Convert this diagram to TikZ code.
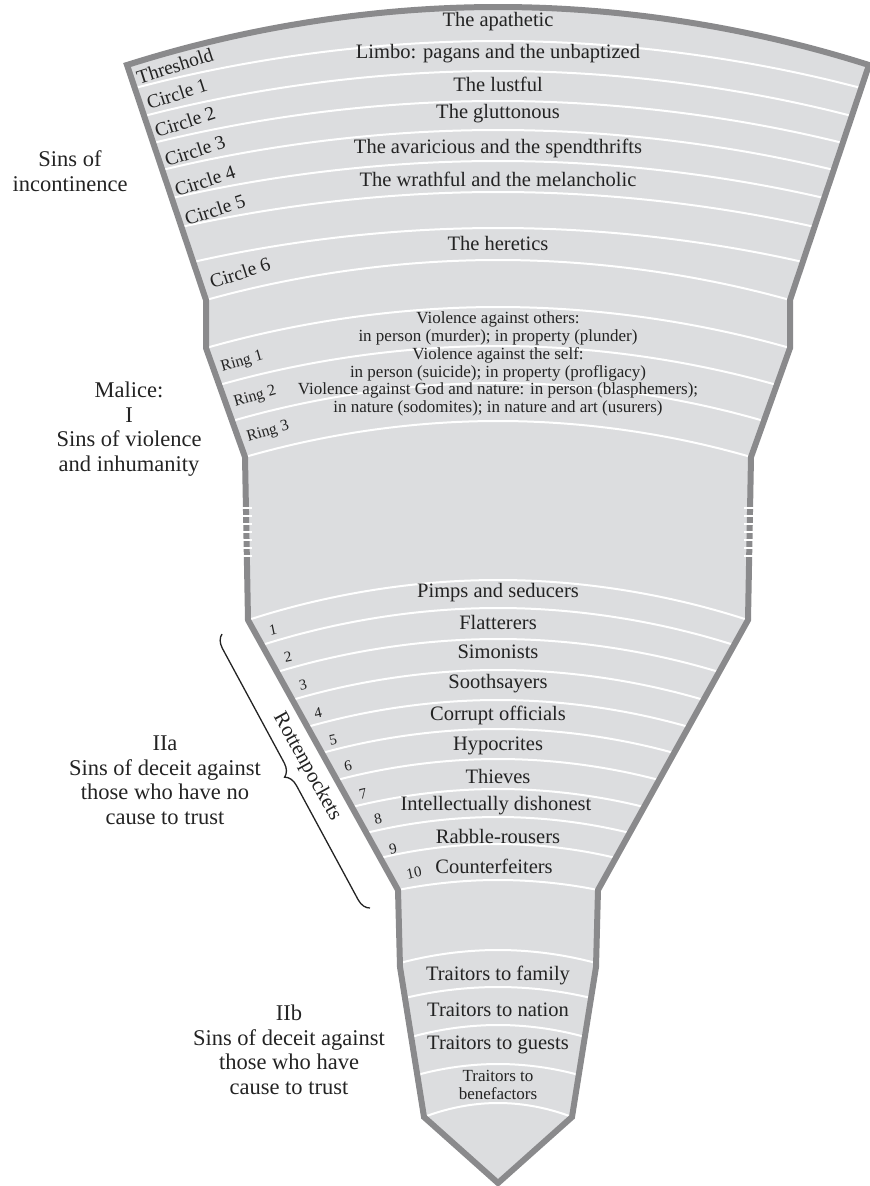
\documentclass[tikz,border=0pt]{standalone}
\usepackage{fontspec}
\setmainfont{Liberation Serif}
\usetikzlibrary{decorations.pathreplacing}
\definecolor{fillc}{RGB}{220,221,223}
\definecolor{edgec}{RGB}{138,138,140}
\definecolor{txtc}{RGB}{35,35,35}
\begin{document}
\begin{tikzpicture}[x=1pt,y=1pt,
  band/.style={font=\fontsize{20.5}{22}\selectfont, text=txtc, inner sep=0pt},
  ringtxt/.style={font=\fontsize{17}{18}\selectfont, text=txtc, align=center, inner sep=0pt},
  circlab/.style={font=\fontsize{19.5}{21}\selectfont, text=txtc, rotate=18, inner sep=0pt},
  ringlab/.style={font=\fontsize{16}{18}\selectfont, text=txtc, rotate=16, inner sep=0pt},
  numlab/.style={font=\fontsize{15}{17}\selectfont, text=txtc, rotate=12, inner sep=0pt},
  sidelab/.style={font=\fontsize{22.5}{24.5}\selectfont, text=txtc, align=center, inner sep=0pt},
  sepline/.style={white, line width=2pt},
  rim/.style={draw=edgec, line width=6pt, line join=miter},
  tick/.style={white, line width=1.3pt},
  bracket/.style={decorate, decoration={brace, amplitude=13pt}, draw=txtc, line width=1.3pt},
]
\useasboundingbox (0,0) rectangle (870,-1186);
% outline corners
\coordinate (A) at (127,-65);   \coordinate (Ar) at (869,-65);
\coordinate (Top) at (498,-7);
\coordinate (B) at (206,-300);  \coordinate (Br) at (790,-300);
\coordinate (C) at (206,-348);  \coordinate (Cr) at (790,-348);
\coordinate (D) at (245,-457);  \coordinate (Dr) at (751,-457);
\coordinate (E) at (248,-620);  \coordinate (Er) at (748,-620);
\coordinate (F) at (398,-890);  \coordinate (Fr) at (598,-890);
\coordinate (G) at (400,-967);  \coordinate (Gr) at (596,-967);
\coordinate (H) at (424,-1117); \coordinate (Hr) at (572,-1117);
\coordinate (I) at (498,-1183);
% fill
\fill[fillc] (A) parabola bend (Top) (Ar) -- (Br) -- (Cr) -- (Dr) -- (Er) -- (Fr) -- (Gr) -- (Hr) -- (I)
  -- (H) -- (G) -- (F) -- (E) -- (D) -- (C) -- (B) -- cycle;
% white separators
\foreach \xl/\yl/\ya in {135/88/41, 144/116/71, 153/143/101, 162/170/130, 172/198/161,
  181/227/192, 193/262/228, 206/300/260, 206/348/307, 219/385/346, 232/421/383, 245/457/421,
  248/620/580, 262/645/608, 277/672/639, 292/700/670, 307/727/700, 322/753/729, 337/780/759,
  352/807/789, 366/833/817, 380/858/844, 398/890/880,
  400/963/950, 405/998/987, 411/1037/1025, 417/1075/1064, 424/1117/1103}
  {\draw[sepline] (\xl,-\yl) parabola bend (498,-\ya) ({996-\xl},-\yl);}
% border
\draw[rim] (A) parabola bend (Top) (Ar) -- (Br) -- (Cr) -- (Dr) -- (Er) -- (Fr) -- (Gr) -- (Hr) -- (I)
  -- (H) -- (G) -- (F) -- (E) -- (D) -- (C) -- (B) -- cycle;
% break marks on the border
\foreach \y in {508,516,...,556}
  {\draw[tick] (240,-\y) -- (252,-\y); \draw[tick] (744,-\y) -- (756,-\y);}
% band texts
\node[band] (t0) at (498,-22) {The apathetic};
\node[band] (t1) at (498,-54) {Limbo: pagans and the unbaptized};
\node[band] (t2) at (498,-84) {The lustful};
\node[band] (t3) at (498,-114) {The gluttonous};
\node[band] (t4) at (498,-148) {The avaricious and the spendthrifts};
\node[band] (t5) at (498,-179) {The wrathful and the melancholic};
\node[band] (t6) at (498,-243) {The heretics};
\node[ringtxt] (r1) at (498,-328) {Violence against others:\\in person (murder); in property (plunder)};
\node[ringtxt] (r2) at (498,-364) {Violence against the self:\\in person (suicide); in property (profligacy)};
\node[ringtxt] (r3) at (498,-399) {Violence against God and nature: in person (blasphemers);\\in nature (sodomites); in nature and art (usurers)};
\node[band] (b1) at (498,-593) {Pimps and seducers};
\node[band] (b2) at (498,-622) {Flatterers};
\node[band] (b3) at (498,-652) {Simonists};
\node[band] (b4) at (498,-684) {Soothsayers};
\node[band] (b5) at (498,-715) {Corrupt officials};
\node[band] (b6) at (498,-746) {Hypocrites};
\node[band] (b7) at (498,-776) {Thieves};
\node[band] (b8) at (496,-806) {Intellectually dishonest};
\node[band] (b9) at (498,-836) {Rabble-rousers};
\node[band] (b10) at (494,-866) {Counterfeiters};
\node[band] (f1) at (498,-975) {Traitors to family};
\node[band] (f2) at (498,-1010) {Traitors to nation};
\node[band] (f3) at (498,-1045) {Traitors to guests};
\node[ringtxt] (f4) at (498,-1085) {Traitors to\\benefactors};
% left labels inside
\node[circlab] (c0) at (175,-66) {Threshold};
\node[circlab] (c1) at (177,-94) {Circle 1};
\node[circlab] (c2) at (185,-122) {Circle 2};
\node[circlab] (c3) at (195,-151) {Circle 3};
\node[circlab] (c4) at (205,-181) {Circle 4};
\node[circlab] (c5) at (215,-210) {Circle 5};
\node[circlab] (c6) at (240,-273) {Circle 6};
\node[ringlab] (g1) at (242,-362) {Ring 1};
\node[ringlab] (g2) at (255,-397) {Ring 2};
\node[ringlab] (g3) at (268,-432) {Ring 3};
\node[numlab] (n1) at (273,-630) {1};
\node[numlab] (n2) at (288,-657) {2};
\node[numlab] (n3) at (303,-685) {3};
\node[numlab] (n4) at (318,-713) {4};
\node[numlab] (n5) at (333,-740) {5};
\node[numlab] (n6) at (348,-766) {6};
\node[numlab] (n7) at (363,-794) {7};
\node[numlab] (n8) at (378,-819) {8};
\node[numlab] (n9) at (393,-849) {9};
\node[numlab] (n10) at (414,-873) {10};
% side labels
\node[sidelab] (s1) at (70,-171) {Sins of\\incontinence};
\node[sidelab] (s2) at (129,-429) {Malice:\\I\\Sins of violence\\and inhumanity};
\node[sidelab] (s3) at (165,-780) {IIa\\Sins of deceit against\\those who have no\\cause to trust};
\node[sidelab] (s4) at (289,-1050) {IIb\\Sins of deceit against\\those who have\\cause to trust};
% brace and Rottenpockets
\coordinate (brlow) at (370,-908);
\coordinate (brup) at (222,-634);
\draw[bracket] (brlow) -- (brup);
\node[font=\fontsize{21}{22}\selectfont, text=txtc, rotate=-61, inner sep=0pt] (rp) at (307,-767) {Rottenpockets};
\end{tikzpicture}
\end{document}
